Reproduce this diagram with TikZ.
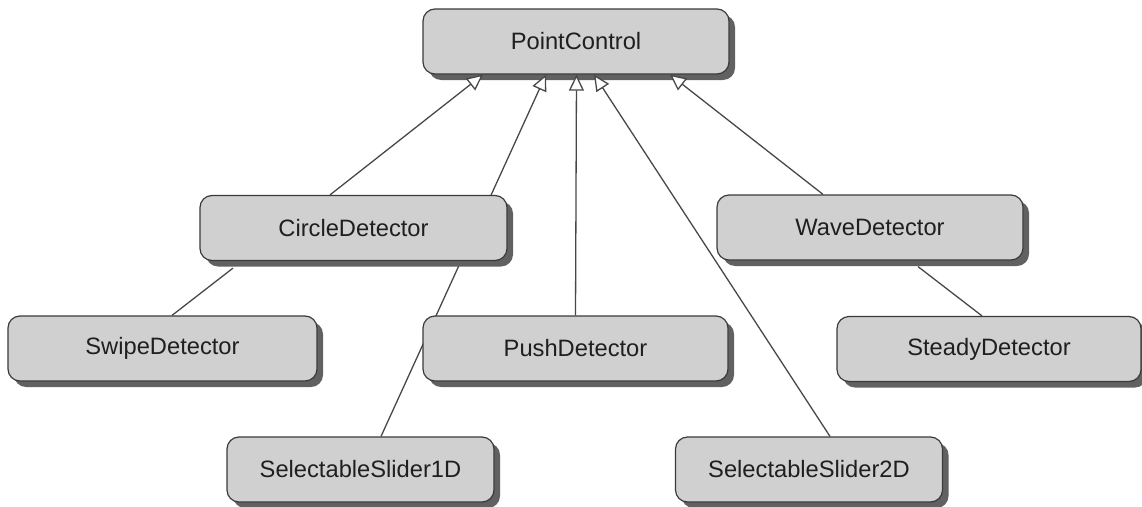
\documentclass[tikz,border=0pt]{standalone}
\usepackage{fontspec}
\setmainfont{Liberation Sans}
\usetikzlibrary{arrows.meta,shadows,calc}
\pgfdeclarelayer{back}
\pgfdeclarelayer{front}
\pgfsetlayers{back,main,front}
\definecolor{boxfill}{HTML}{D0D0D0}
\definecolor{boxline}{HTML}{3A3A3A}
\definecolor{edgeline}{HTML}{484848}
\tikzset{
  classbox/.style={draw=boxline, line width=1.2pt, fill=boxfill,
    rounded corners=12pt, minimum height=65pt, inner sep=0pt,
    font=\fontsize{23.7}{28}\selectfont, text=black!88,
    drop shadow={shadow xshift=6pt, shadow yshift=-6pt, fill=black!62, opacity=1}},
  inherit/.style={draw=edgeline, line width=1.3pt,
    -{Triangle[length=16pt, width=15pt, fill=white, line width=1.3pt]}},
  assoc/.style={draw=edgeline, line width=1.3pt}
}
\begin{document}
\begin{tikzpicture}[x=1pt,y=-1pt]
\useasboundingbox (0,0) rectangle (1142,506);

% base class, kept underneath the connectors
\begin{pgfonlayer}{back}
\node[classbox, minimum width=306pt] (pc) at (576,41.5) {PointControl};
\end{pgfonlayer}

% derived classes, drawn above the connectors
\begin{pgfonlayer}{front}
\node[classbox, minimum width=307pt] (circ)   at (353.5,228)   {CircleDetector};
\node[classbox, minimum width=306pt] (wave)   at (870,227.5)   {WaveDetector};
\node[classbox, minimum width=309pt] (swipe)  at (162.5,348.5) {SwipeDetector};
\node[classbox, minimum width=305pt] (push)   at (575.5,348.5) {PushDetector};
\node[classbox, minimum width=304pt] (steady) at (989,349)     {SteadyDetector};
\node[classbox, minimum width=267pt] (sone)   at (360.5,469.5) {SelectableSlider1D};
\node[classbox, minimum width=267pt] (stwo)   at (809,469.5)   {SelectableSlider2D};
\end{pgfonlayer}

% generalisations
\draw[inherit] ([xshift=-23.5pt]circ.north) -- ([xshift=-93pt]pc.south);
\draw[inherit] ([xshift=20.5pt]sone.north) -- ([xshift=-30pt]pc.south);
\draw[inherit] (push.north) -- ([xshift=0.5pt]pc.south);
\draw[inherit] ([xshift=21pt]stwo.north) -- ([xshift=18pt]pc.south);
\draw[inherit] ([xshift=-47pt]wave.north) -- ([xshift=94pt]pc.south);

% plain links
\draw[assoc] ([xshift=9.5pt]swipe.north) -- ([xshift=-120.5pt,yshift=-7pt]circ.south);
\draw[assoc] ([xshift=-7pt]steady.north) -- ([xshift=48pt,yshift=-6pt]wave.south);
\end{tikzpicture}
\end{document}
